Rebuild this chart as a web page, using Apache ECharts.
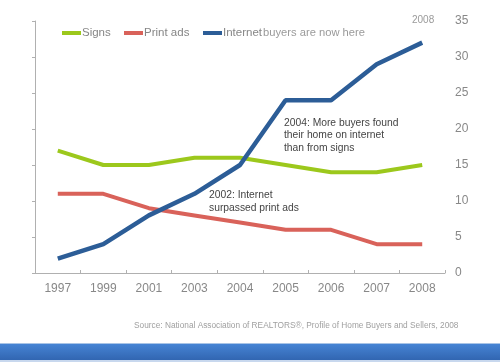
<!DOCTYPE html>
<html><head><meta charset="utf-8">
<script src="https://cdn.jsdelivr.net/npm/echarts@6/dist/echarts.min.js"></script>
<style>html,body{margin:0;padding:0;background:#fff}#c{width:500px;height:362px}</style>
</head><body><div id="c"></div>
<script>
const years = ['1997','1999','2001','2003','2004','2005','2006','2007','2008'];
const signs = [17, 15, 15, 16, 16, 15, 14, 14, 15];
const printAds = [11, 11, 9, 8, 7, 6, 6, 4, 4];
const internet = [2, 4, 8, 11, 15, 24, 24, 29, 32];
const yTicks = [0, 5, 10, 15, 20, 25, 30, 35];

const chart = echarts.init(document.getElementById('c'));
const font = 'Liberation Sans, Arial, sans-serif';
function lg(name, left) {
  return {
    left: left, top: 27, padding: 0, itemWidth: 19, itemHeight: 4, icon: 'rect',
    textStyle: {color: '#868686', fontSize: 11.5, fontFamily: font, padding: [0, 0, 0, -4]},
    data: [name]
  };
}
chart.setOption({
  animation: false,
  grid: {left: 35, right: 55, top: 21, bottom: 89},
  legend: [lg('Signs', 62), lg('Print ads', 124), lg('Internet', 203)],
  xAxis: {
    type: 'category', data: years, boundaryGap: true,
    axisLine: {lineStyle: {color: '#b0b0b0', width: 1}},
    axisTick: {show: true, inside: true, length: 3, lineStyle: {color: '#b0b0b0'}},
    axisLabel: {color: '#888', fontSize: 12, fontFamily: font, margin: 10}
  },
  yAxis: [{
    type: 'value', min: 0, max: 35, interval: 5, position: 'left',
    axisLine: {show: true, lineStyle: {color: '#b0b0b0'}},
    axisTick: {show: true, length: 3, lineStyle: {color: '#b0b0b0'}},
    axisLabel: {show: false}, splitLine: {show: false}
  }, {
    type: 'value', min: yTicks[0], max: yTicks[yTicks.length-1], interval: 5, position: 'right',
    axisLine: {show: false}, axisTick: {show: false}, splitLine: {show: false},
    axisLabel: {color: '#888', fontSize: 12, fontFamily: font, margin: 10}
  }],
  series: [
    {name: 'Signs', type: 'line', data: signs, symbol: 'none', lineStyle: {width: 4, color: '#9cc81c'}, itemStyle: {color: '#9cc81c'}},
    {name: 'Print ads', type: 'line', data: printAds, symbol: 'none', lineStyle: {width: 4, color: '#d9625a'}, itemStyle: {color: '#d9625a'}},
    {name: 'Internet', type: 'line', data: internet, symbol: 'none', lineStyle: {width: 4.5, color: '#2c5d97'}, itemStyle: {color: '#2c5d97'}}
  ],
  graphic: [
    {type: 'text', left: 263, top: 27, style: {text: 'buyers are now here', fill: '#9a9a9a', font: '11.2px ' + font}},
    {type: 'text', left: 412, top: 15, style: {text: '2008', fill: '#9a9a9a', font: '10px ' + font}},
    {type: 'text', left: 284, top: 117, style: {text: '2004: More buyers found\ntheir home on internet\nthan from signs', fill: '#444', font: '10.3px ' + font, lineHeight: 12.3}},
    {type: 'text', left: 209, top: 189, style: {text: '2002: Internet\nsurpassed print ads', fill: '#444', font: '10.3px ' + font, lineHeight: 12.5}},
    {type: 'text', left: 134, top: 322, style: {text: 'Source: National Association of REALTORS®, Profile of Home Buyers and Sellers, 2008', fill: '#a0a0a0', font: '8.3px ' + font}},
    {type: 'rect', shape: {x: 0, y: 344, width: 500, height: 18},
      style: {fill: new echarts.graphic.LinearGradient(0,0,0,1,[{offset:0,color:'#4684d4'},{offset:1,color:'#2f62ad'}])}},
    {type: 'rect', shape: {x: 0, y: 343, width: 500, height: 1}, style: {fill: '#a9c4e6'}},
    {type: 'rect', shape: {x: 0, y: 360, width: 500, height: 2}, style: {fill: '#c8d8ee'}}
  ]
});
</script></body></html>
